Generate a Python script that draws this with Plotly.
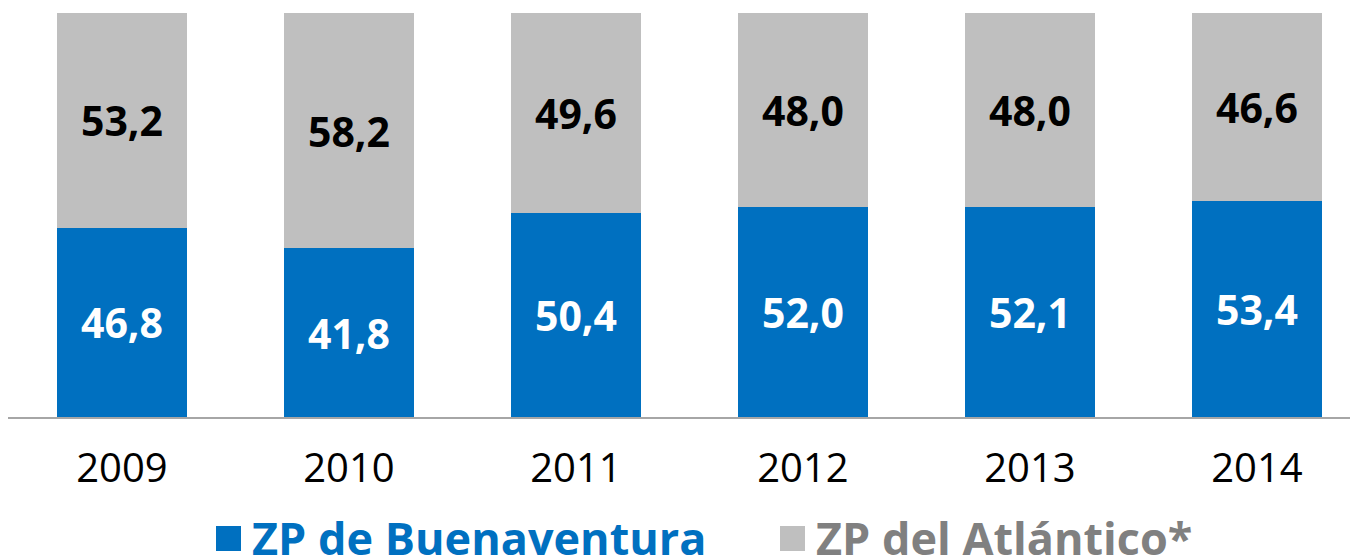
# Participación por zona portuaria (100% apilado)
import plotly.graph_objects as go

years = ["2009", "2010", "2011", "2012", "2013", "2014"]
buenaventura = [46.8, 41.8, 50.4, 52.0, 52.1, 53.4]
atlantico = [53.2, 58.2, 49.6, 48.0, 48.0, 46.6]

series_names = ["ZP de Buenaventura", "ZP del Atlántico*"]
bar_colors = ["#0070C0", "#BFBFBF"]
legend_text_colors = ["#0070C0", "#808080"]
label_colors = ["white", "black"]

# page body adds an 8px margin, so the figure is drawn 8px in from the corner
OFF = 8
W, H = 1358 - OFF, 557 - OFF
margin = dict(l=0, r=0, t=13 - OFF, b=557 - 417, pad=0)
font_family = "Open Sans"


def fmt(v):
    return f"{v:.1f}".replace(".", ",")


fig = go.Figure()

for name, vals, color, lab_color in zip(series_names, [buenaventura, atlantico], bar_colors, label_colors):
    fig.add_trace(
        go.Bar(
            x=years, y=vals, name=name,
            marker=dict(color=color, line_width=0),
            text=[fmt(v) for v in vals],
            textposition="inside", insidetextanchor="middle", textangle=0,
            textfont=dict(family=font_family, size=41, color=lab_color, weight="bold"),
            showlegend=False,
        )
    )

# Legend drawn by hand so the colour squares match the reference size
plot_w = W - margin["l"] - margin["r"]
plot_h = H - margin["t"] - margin["b"]


def px_x(px):
    # px in screenshot coordinates
    return (px - OFF - margin["l"]) / plot_w


def px_y(py):
    return (H - margin["b"] - (py - OFF)) / plot_h


legend_x = [216, 780]
sq = 25
for name, x0, color, tcolor in zip(series_names, legend_x, bar_colors, legend_text_colors):
    fig.add_shape(
        type="rect", xref="paper", yref="paper",
        x0=px_x(x0), x1=px_x(x0 + sq), y0=px_y(526), y1=px_y(526 + sq),
        fillcolor=color, line_width=0,
    )
    fig.add_annotation(
        xref="paper", yref="paper", x=px_x(x0 + sq + 10), y=px_y(537),
        xanchor="left", yanchor="middle", showarrow=False,
        text=f"<b>{name}</b>", height=40, borderpad=0, valign="middle",
        font=dict(family=font_family, size=45, color=tcolor),
    )

fig.update_layout(
    barmode="stack",
    barnorm="percent",
    bargap=0.427,
    xaxis=dict(
        range=[-0.502, 5.445], showline=True, linecolor="#A6A6A6", linewidth=2,
        ticks="", showgrid=False, zeroline=False,
        tickfont=dict(family=font_family, size=40, color="black"),
        ticklabelstandoff=15,
    ),
    yaxis=dict(range=[0, 100], visible=False, showgrid=False, zeroline=False),
    plot_bgcolor="white",
    paper_bgcolor="white",
    font=dict(family=font_family),
    width=W,
    height=H,
    margin=margin,
    uniformtext=dict(mode=False),
)

fig.write_html("out.html")
